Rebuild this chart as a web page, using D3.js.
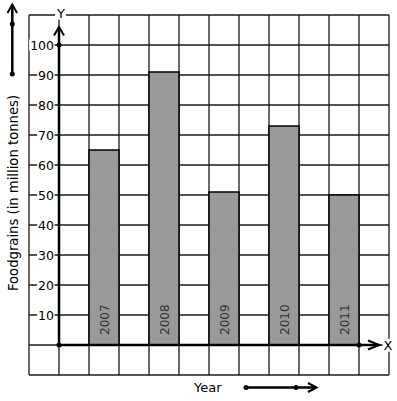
<!DOCTYPE html>
<html><head><meta charset="utf-8">
<script src="https://cdn.jsdelivr.net/npm/d3@7"></script>
<style>html,body{margin:0;padding:0;background:#fff;}svg{display:block;}</style>
</head><body>
<svg id="c" width="397" height="401"></svg>
<script>
const years = ["2007", "2008", "2009", "2010", "2011"];
const values = [65, 91, 51, 73, 50];
const yTicks = [10, 20, 30, 40, 50, 60, 70, 80, 90, 100];
const yLabel = "Foodgrains (in million tonnes)";
const xLabel = "Year";

const svg = d3.select("#c");
const font = "DejaVu Sans, sans-serif";
// grid units: x from -1..11 (y axis at 0), y from -10..110
const x = d3.scaleLinear().domain([-1, 11]).range([29, 389]);
const y = d3.scaleLinear().domain([-10, 110]).range([375, 15]);

const grid = svg.append("g").attr("stroke", "#1a1a1a").attr("stroke-width", 1.3);
d3.range(-1, 12).forEach(i => grid.append("line")
  .attr("x1", x(i)).attr("x2", x(i)).attr("y1", y(-10)).attr("y2", y(110)));
d3.range(-10, 111, 10).forEach(v => grid.append("line")
  .attr("x1", x(-1)).attr("x2", x(11)).attr("y1", y(v)).attr("y2", y(v)));

// bars
svg.append("g").selectAll("rect").data(values).join("rect")
  .attr("x", (d, i) => x(1 + 2 * i))
  .attr("width", x(2) - x(1))
  .attr("y", d => y(d))
  .attr("height", d => y(0) - y(d))
  .attr("fill", "#999999").attr("stroke", "#000").attr("stroke-width", 1.5);

// bar labels
svg.append("g").selectAll("text").data(years).join("text")
  .attr("transform", (d, i) => `translate(${x(1.5 + 2 * i) + 4.5},${y(0) - 10}) rotate(-90)`)
  .attr("font-family", font).attr("font-size", 12).attr("fill", "#333")
  .text(d => d);

// axes
const ax = svg.append("g").attr("stroke", "#000").attr("stroke-width", 2.5).attr("fill", "none");
ax.append("line").attr("x1", x(0)).attr("x2", x(0)).attr("y1", y(0)).attr("y2", y(106));
ax.append("path").attr("d", `M${x(0)-5},${y(103.2)} L${x(0)},${y(106)} L${x(0)+5},${y(103.2)}`).attr("stroke-width", 2);
ax.append("line").attr("x1", x(0)).attr("x2", x(10.67)).attr("y1", y(0)).attr("y2", y(0));
ax.append("path").attr("d", `M${x(10.3)},${y(1.5)} L${x(10.67)},${y(0)} L${x(10.3)},${y(-1.5)}`).attr("stroke-width", 2);

[[x(0), y(0)], [x(0), y(100)], [x(10), y(0)]].forEach(p =>
  svg.append("circle").attr("cx", p[0]).attr("cy", p[1]).attr("r", 2.5).attr("fill", "#000"));

// tick labels with white background
const tg = svg.append("g");
yTicks.forEach(v => {
  const t = tg.append("text").attr("x", 54).attr("y", y(v)).attr("dy", "0.36em")
    .attr("text-anchor", "end").attr("font-family", font).attr("font-size", 12.5)
    .attr("fill", "#000").text(v);
  const b = t.node().getBBox();
  tg.insert("rect", "text").attr("x", b.x - 1).attr("y", b.y + 2).attr("width", b.width + 1.5)
    .attr("height", b.height - 4).attr("fill", "#fff");
});

// axis letters
function labelBg(tx, ty, s) {
  const t = svg.append("text").attr("x", tx).attr("y", ty).attr("dy", "0.36em")
    .attr("text-anchor", "middle").attr("font-family", font).attr("font-size", 13).text(s);
  const b = t.node().getBBox();
  svg.insert("rect", () => t.node()).attr("x", b.x - 1).attr("y", b.y + 1)
    .attr("width", b.width + 2).attr("height", b.height - 2).attr("fill", "#fff");
}
labelBg(x(0) + 2, 13, "Y");
labelBg(388, y(0), "X");

// y label
svg.append("text").attr("transform", `translate(17.5,${193}) rotate(-90)`)
  .attr("text-anchor", "middle").attr("font-family", font).attr("font-size", 13.2)
  .attr("fill", "#000").text(yLabel);

// x label
svg.append("text").attr("x", 194).attr("y", 392).attr("font-family", font)
  .attr("font-size", 13).attr("fill", "#000").text(xLabel);

// decorative arrows
const da = svg.append("g").attr("stroke", "#000").attr("stroke-width", 2.5).attr("fill", "none");
da.append("line").attr("x1", 12.3).attr("x2", 12.3).attr("y1", 74).attr("y2", 5);
da.append("path").attr("d", "M7.5,13 L12.3,4.5 L17,13").attr("stroke-width", 2);
da.append("line").attr("x1", 246).attr("x2", 316).attr("y1", 387.5).attr("y2", 387.5);
da.append("path").attr("d", "M308,383 L316.5,387.5 L308,392").attr("stroke-width", 2);
[[12.3, 24], [12.3, 74], [246, 387.5], [296, 387.5]].forEach(p =>
  svg.append("circle").attr("cx", p[0]).attr("cy", p[1]).attr("r", 2.5).attr("fill", "#000"));
</script>
</body></html>
